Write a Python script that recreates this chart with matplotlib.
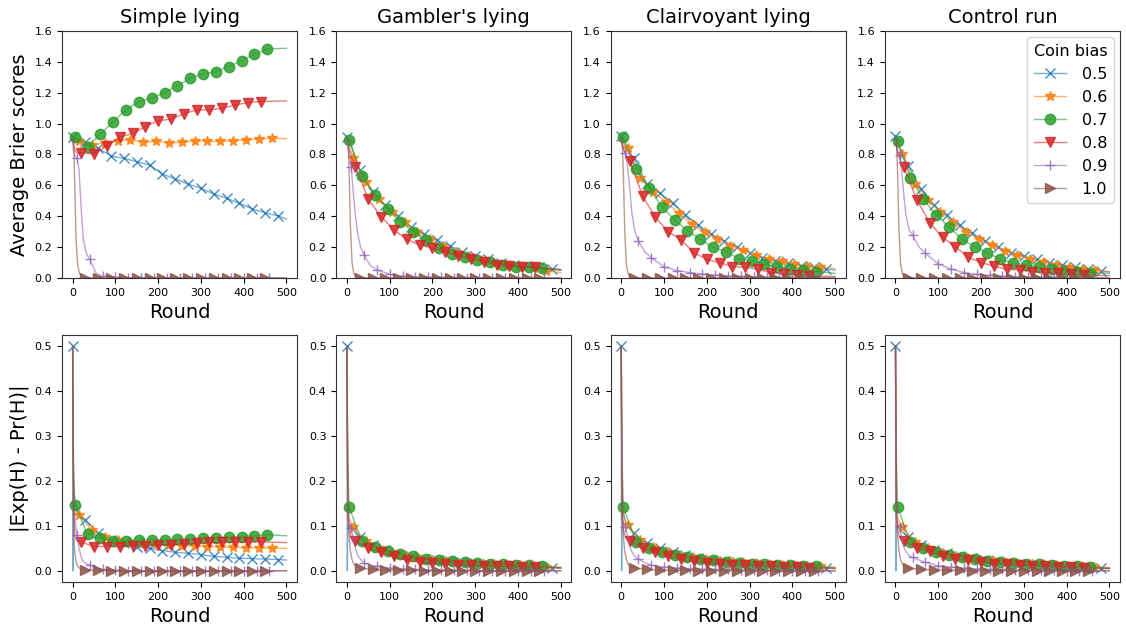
import numpy as np
import matplotlib
matplotlib.use('Agg')
import matplotlib.pyplot as plt
from matplotlib.colors import to_rgba

BIASES = ['0.5', '0.6', '0.7', '0.8', '0.9', '1.0']
TITLES = ["Simple lying", "Gambler's lying", "Clairvoyant lying", "Control run"]

rounds_05 = [0, 1, 2, 5, 10, 20, 30, 60, 90, 120, 150, 180, 210, 240, 270, 300, 330, 360, 390, 420, 450, 480, 500]
rounds_06 = [0, 2, 5, 10, 15, 45, 75, 105, 135, 165, 195, 225, 255, 285, 315, 345, 375, 405, 435, 465, 500]
rounds_07 = [0, 2, 5, 35, 65, 95, 125, 155, 185, 215, 245, 275, 305, 335, 365, 395, 425, 455, 500]
rounds_08 = [0, 2, 5, 10, 20, 50, 80, 110, 140, 170, 200, 230, 260, 290, 320, 350, 380, 410, 440, 500]
rounds_09 = [0, 2, 5, 10, 15, 20, 25, 32, 40, 55, 70, 100, 130, 160, 190, 220, 250, 280, 310, 340, 370, 400, 430, 460, 500]
rounds_10 = [0, 1, 2, 3, 5, 8, 12, 16, 20, 30, 60, 90, 120, 150, 180, 210, 240, 270, 300, 330, 360, 390, 420, 450, 500]

# Average Brier scores
brier_simple_05 = [0.916, 0.915, 0.914, 0.91, 0.90, 0.89, 0.883, 0.840, 0.790, 0.775, 0.754, 0.732, 0.674, 0.641, 0.609, 0.581, 0.544, 0.516, 0.484, 0.447, 0.423, 0.402, 0.382]
brier_gambler_05 = [0.915, 0.91, 0.905, 0.89, 0.86, 0.78, 0.70, 0.56, 0.47, 0.40, 0.33, 0.285, 0.245, 0.21, 0.17, 0.14, 0.12, 0.10, 0.085, 0.075, 0.068, 0.058, 0.052]
brier_clair_05 = [0.92, 0.915, 0.91, 0.89, 0.86, 0.81, 0.775, 0.61, 0.55, 0.484, 0.41, 0.343, 0.285, 0.24, 0.20, 0.165, 0.13, 0.11, 0.095, 0.08, 0.07, 0.058, 0.05]
brier_control_05 = [0.92, 0.915, 0.905, 0.88, 0.84, 0.78, 0.725, 0.575, 0.47, 0.405, 0.34, 0.29, 0.24, 0.20, 0.165, 0.14, 0.12, 0.10, 0.085, 0.07, 0.058, 0.045, 0.04]

brier_simple_06 = [0.91, 0.905, 0.90, 0.895, 0.89, 0.86, 0.875, 0.89, 0.895, 0.88, 0.885, 0.875, 0.878, 0.888, 0.885, 0.885, 0.888, 0.895, 0.90, 0.905, 0.902]
brier_gambler_06 = [0.91, 0.89, 0.86, 0.82, 0.78, 0.62, 0.51, 0.43, 0.36, 0.30, 0.255, 0.21, 0.17, 0.14, 0.115, 0.10, 0.085, 0.075, 0.065, 0.045, 0.035]
brier_clair_06 = [0.91, 0.89, 0.87, 0.85, 0.84, 0.65, 0.56, 0.49, 0.42, 0.35, 0.295, 0.255, 0.21, 0.18, 0.15, 0.125, 0.11, 0.09, 0.075, 0.07, 0.06]
brier_control_06 = [0.91, 0.89, 0.86, 0.83, 0.80, 0.61, 0.505, 0.43, 0.36, 0.30, 0.25, 0.215, 0.177, 0.15, 0.12, 0.105, 0.085, 0.069, 0.056, 0.05, 0.04]

brier_simple_07 = [0.91, 0.915, 0.916, 0.851, 0.933, 1.013, 1.089, 1.143, 1.164, 1.201, 1.246, 1.294, 1.322, 1.337, 1.369, 1.408, 1.449, 1.484, 1.488]
brier_gambler_07 = [0.91, 0.90, 0.894, 0.663, 0.538, 0.447, 0.365, 0.300, 0.246, 0.192, 0.156, 0.138, 0.117, 0.102, 0.084, 0.073, 0.069, 0.063, 0.05]
brier_clair_07 = [0.92, 0.915, 0.911, 0.704, 0.581, 0.462, 0.376, 0.307, 0.251, 0.199, 0.171, 0.125, 0.110, 0.091, 0.069, 0.056, 0.052, 0.041, 0.03]
brier_control_07 = [0.91, 0.90, 0.89, 0.646, 0.510, 0.408, 0.333, 0.251, 0.203, 0.164, 0.121, 0.099, 0.084, 0.069, 0.056, 0.045, 0.041, 0.035, 0.03]

brier_simple_08 = [0.91, 0.87, 0.83, 0.81, 0.812, 0.803, 0.855, 0.911, 0.937, 0.981, 1.019, 1.028, 1.063, 1.089, 1.089, 1.099, 1.121, 1.136, 1.143, 1.147]
brier_gambler_08 = [0.90, 0.87, 0.83, 0.79, 0.721, 0.51, 0.397, 0.311, 0.25, 0.214, 0.192, 0.171, 0.143, 0.121, 0.106, 0.084, 0.080, 0.073, 0.069, 0.055]
brier_clair_08 = [0.90, 0.87, 0.84, 0.80, 0.76, 0.531, 0.393, 0.300, 0.246, 0.164, 0.121, 0.099, 0.073, 0.069, 0.056, 0.035, 0.024, 0.019, 0.013, 0.01]
brier_control_08 = [0.90, 0.86, 0.81, 0.77, 0.717, 0.505, 0.359, 0.263, 0.203, 0.134, 0.099, 0.078, 0.056, 0.052, 0.041, 0.035, 0.030, 0.024, 0.019, 0.015]

brier_simple_09 = [0.91, 0.82, 0.79, 0.78, 0.70, 0.45, 0.25, 0.16, 0.12, 0.03, 0.01, 0.004, 0.002, 0.001, 0.001, 0, 0, 0, 0, 0, 0, 0, 0, 0, 0]
brier_gambler_09 = [0.91, 0.86, 0.80, 0.72, 0.55, 0.40, 0.29, 0.20, 0.149, 0.08, 0.052, 0.024, 0.013, 0.009, 0.006, 0.004, 0.003, 0.002, 0.002, 0.001, 0.001, 0.001, 0, 0, 0]
brier_clair_09 = [0.91, 0.86, 0.83, 0.81, 0.72, 0.58, 0.42, 0.30, 0.242, 0.17, 0.132, 0.073, 0.048, 0.035, 0.026, 0.019, 0.013, 0.010, 0.008, 0.006, 0.004, 0.003, 0.002, 0.001, 0.0]
brier_control_09 = [0.91, 0.86, 0.82, 0.797, 0.68, 0.52, 0.40, 0.31, 0.279, 0.20, 0.160, 0.091, 0.058, 0.035, 0.024, 0.017, 0.012, 0.009, 0.007, 0.005, 0.004, 0.003, 0.002, 0.001, 0.0]

brier_simple_10 = [0.91, 0.90, 0.88, 0.84, 0.60, 0.25, 0.08, 0.03, 0.015, 0.003, 0, 0, 0, 0, 0, 0, 0, 0, 0, 0, 0, 0, 0, 0, 0]
brier_gambler_10 = [0.91, 0.90, 0.89, 0.85, 0.70, 0.35, 0.10, 0.03, 0.01, 0.002, 0, 0, 0, 0, 0, 0, 0, 0, 0, 0, 0, 0, 0, 0, 0]
brier_clair_10 = [0.91, 0.90, 0.88, 0.84, 0.68, 0.33, 0.09, 0.03, 0.01, 0.002, 0, 0, 0, 0, 0, 0, 0, 0, 0, 0, 0, 0, 0, 0, 0]
brier_control_10 = [0.91, 0.90, 0.88, 0.84, 0.68, 0.32, 0.09, 0.03, 0.01, 0.002, 0, 0, 0, 0, 0, 0, 0, 0, 0, 0, 0, 0, 0, 0, 0]

# |Exp(H) - Pr(H)|
absdiff_simple_05 = [0.5, 0.0, 0.175, 0.16, 0.14, 0.12, 0.113, 0.084, 0.069, 0.061, 0.053, 0.050, 0.045, 0.041, 0.039, 0.036, 0.032, 0.030, 0.028, 0.027, 0.026, 0.025, 0.024]
absdiff_gambler_05 = [0.5, 0.0, 0.10, 0.10, 0.095, 0.085, 0.075, 0.057, 0.046, 0.038, 0.032, 0.027, 0.024, 0.021, 0.019, 0.017, 0.015, 0.013, 0.012, 0.010, 0.009, 0.007, 0.006]
absdiff_clair_05 = [0.5, 0.0, 0.16, 0.13, 0.11, 0.095, 0.084, 0.062, 0.05, 0.042, 0.035, 0.029, 0.025, 0.022, 0.019, 0.016, 0.014, 0.012, 0.011, 0.010, 0.009, 0.007, 0.006]
absdiff_control_05 = [0.5, 0.0, 0.10, 0.098, 0.092, 0.083, 0.076, 0.058, 0.047, 0.039, 0.033, 0.028, 0.024, 0.021, 0.018, 0.016, 0.014, 0.012, 0.011, 0.009, 0.008, 0.006, 0.005]

absdiff_simple_06 = [0.5, 0.2, 0.15, 0.13, 0.124, 0.091, 0.075, 0.068, 0.064, 0.061, 0.059, 0.057, 0.056, 0.055, 0.054, 0.053, 0.052, 0.051, 0.051, 0.050, 0.050]
absdiff_gambler_06 = [0.5, 0.15, 0.12, 0.105, 0.097, 0.066, 0.05, 0.041, 0.035, 0.03, 0.026, 0.023, 0.02, 0.018, 0.016, 0.014, 0.013, 0.012, 0.011, 0.009, 0.008]
absdiff_clair_06 = [0.5, 0.15, 0.125, 0.11, 0.102, 0.068, 0.052, 0.043, 0.036, 0.031, 0.027, 0.024, 0.021, 0.019, 0.017, 0.015, 0.013, 0.012, 0.011, 0.010, 0.008]
absdiff_control_06 = [0.5, 0.15, 0.12, 0.105, 0.098, 0.065, 0.05, 0.041, 0.035, 0.03, 0.026, 0.023, 0.02, 0.018, 0.016, 0.014, 0.013, 0.011, 0.010, 0.009, 0.007]

absdiff_simple_07 = [0.5, 0.25, 0.147, 0.082, 0.073, 0.067, 0.067, 0.069, 0.069, 0.069, 0.070, 0.071, 0.073, 0.074, 0.075, 0.076, 0.078, 0.080, 0.078]
absdiff_gambler_07 = [0.5, 0.25, 0.141, 0.067, 0.053, 0.043, 0.037, 0.032, 0.026, 0.024, 0.021, 0.019, 0.017, 0.016, 0.015, 0.013, 0.012, 0.010, 0.007]
absdiff_clair_07 = [0.5, 0.25, 0.141, 0.064, 0.051, 0.042, 0.036, 0.031, 0.026, 0.023, 0.020, 0.018, 0.016, 0.014, 0.013, 0.012, 0.011, 0.010, 0.006]
absdiff_control_07 = [0.5, 0.25, 0.141, 0.064, 0.050, 0.042, 0.035, 0.030, 0.026, 0.022, 0.020, 0.017, 0.015, 0.014, 0.012, 0.011, 0.010, 0.008, 0.006]

absdiff_simple_08 = [0.5, 0.15, 0.08, 0.066, 0.064, 0.054, 0.054, 0.054, 0.056, 0.056, 0.058, 0.058, 0.060, 0.061, 0.063, 0.063, 0.064, 0.064, 0.064, 0.063]
absdiff_gambler_08 = [0.5, 0.12, 0.09, 0.075, 0.067, 0.050, 0.041, 0.032, 0.024, 0.019, 0.017, 0.015, 0.013, 0.012, 0.011, 0.010, 0.010, 0.008, 0.008, 0.006]
absdiff_clair_08 = [0.5, 0.12, 0.09, 0.075, 0.067, 0.050, 0.041, 0.032, 0.026, 0.021, 0.018, 0.015, 0.013, 0.012, 0.011, 0.010, 0.009, 0.008, 0.007, 0.005]
absdiff_control_08 = [0.5, 0.12, 0.09, 0.075, 0.067, 0.050, 0.043, 0.032, 0.026, 0.023, 0.019, 0.016, 0.014, 0.012, 0.011, 0.010, 0.009, 0.008, 0.007, 0.005]

absdiff_simple_09 = [0.5, 0.2, 0.12, 0.08, 0.05, 0.03, 0.02, 0.016, 0.013, 0.006, 0.003, 0.001, 0, 0, 0, 0, 0, 0, 0, 0, 0, 0, 0, 0, 0]
absdiff_gambler_09 = [0.5, 0.15, 0.11, 0.095, 0.07, 0.05, 0.035, 0.025, 0.017, 0.013, 0.010, 0.006, 0.004, 0.003, 0.002, 0.002, 0.001, 0.001, 0, 0, 0, 0, 0, 0, 0]
absdiff_clair_09 = [0.5, 0.12, 0.105, 0.097, 0.075, 0.055, 0.042, 0.032, 0.026, 0.018, 0.013, 0.008, 0.006, 0.005, 0.004, 0.003, 0.003, 0.002, 0.002, 0.001, 0, 0, 0, 0, 0]
absdiff_control_09 = [0.5, 0.12, 0.105, 0.097, 0.07, 0.052, 0.042, 0.034, 0.030, 0.024, 0.019, 0.011, 0.008, 0.006, 0.004, 0.003, 0.003, 0.002, 0.002, 0.001, 0.001, 0, 0, 0, 0]

absdiff_simple_10 = [0.5, 0.3, 0.15, 0.08, 0.04, 0.02, 0.01, 0.006, 0.004, 0.002, 0.001, 0, 0, 0, 0, 0, 0, 0, 0, 0, 0, 0, 0, 0, 0]
absdiff_gambler_10 = [0.5, 0.35, 0.2, 0.14, 0.08, 0.045, 0.025, 0.015, 0.01, 0.006, 0.003, 0.002, 0.001, 0.001, 0, 0, 0, 0, 0, 0, 0, 0, 0, 0, 0]
absdiff_clair_10 = [0.5, 0.35, 0.2, 0.14, 0.08, 0.045, 0.025, 0.015, 0.01, 0.006, 0.003, 0.002, 0.001, 0.001, 0, 0, 0, 0, 0, 0, 0, 0, 0, 0, 0]
absdiff_control_10 = [0.5, 0.35, 0.2, 0.14, 0.08, 0.045, 0.025, 0.015, 0.01, 0.006, 0.003, 0.002, 0.001, 0.001, 0, 0, 0, 0, 0, 0, 0, 0, 0, 0, 0]

rounds = [rounds_05, rounds_06, rounds_07, rounds_08, rounds_09, rounds_10]
brier = [
    [brier_simple_05, brier_simple_06, brier_simple_07, brier_simple_08, brier_simple_09, brier_simple_10],
    [brier_gambler_05, brier_gambler_06, brier_gambler_07, brier_gambler_08, brier_gambler_09, brier_gambler_10],
    [brier_clair_05, brier_clair_06, brier_clair_07, brier_clair_08, brier_clair_09, brier_clair_10],
    [brier_control_05, brier_control_06, brier_control_07, brier_control_08, brier_control_09, brier_control_10],
]
absdiff = [
    [absdiff_simple_05, absdiff_simple_06, absdiff_simple_07, absdiff_simple_08, absdiff_simple_09, absdiff_simple_10],
    [absdiff_gambler_05, absdiff_gambler_06, absdiff_gambler_07, absdiff_gambler_08, absdiff_gambler_09, absdiff_gambler_10],
    [absdiff_clair_05, absdiff_clair_06, absdiff_clair_07, absdiff_clair_08, absdiff_clair_09, absdiff_clair_10],
    [absdiff_control_05, absdiff_control_06, absdiff_control_07, absdiff_control_08, absdiff_control_09, absdiff_control_10],
]

# styling
markers = ['x', '*', 'o', 'v', '+', '>']
colors = ['C0', 'C1', 'C2', 'C3', 'C4', 'C5']
first_marker = [0, 15, 5, 20, 10, 30]   # markers every 30 rounds, staggered

fig, axes = plt.subplots(2, 4, figsize=(11.26, 6.25), dpi=100)
fig.subplots_adjust(left=0.055, right=0.9947, top=0.9504, bottom=0.0688,
                    wspace=0.166, hspace=0.231)

for col in range(4):
    for row, data in enumerate([brier, absdiff]):
        ax = axes[row, col]
        for k in range(6):
            r = rounds[k]
            start = first_marker[k]
            me = [i for i, x in enumerate(r) if x >= start and (x - start) % 30 == 0 and x < 500]
            ax.plot(r, data[col][k], color=to_rgba(colors[k], 0.6), marker=markers[k], markevery=me,
                    mfc=to_rgba(colors[k], 0.85), mec=to_rgba(colors[k], 0.85),
                    ms=7.5, lw=1, label=BIASES[k])
        ax.set_xticks([0, 100, 200, 300, 400, 500])
        ax.tick_params(labelsize=8)
        ax.set_xlabel('Round', fontsize=14)
        if row == 0:
            ax.set_ylim(0, 1.6)
            ax.set_yticks(np.arange(0, 1.61, 0.2))
            ax.set_title(TITLES[col], fontsize=14)
        for s in ax.spines.values():
            s.set_color('#333333')

axes[0, 0].set_ylabel('Average Brier scores', fontsize=14)
axes[1, 0].set_ylabel('|Exp(H) - Pr(H)|', fontsize=14)
axes[0, 3].legend(title='Coin bias', loc='upper right', fontsize=11.5, title_fontsize=11.5,
                  handletextpad=1.0, borderaxespad=0.4)

fig.savefig('out.png', dpi=100)
